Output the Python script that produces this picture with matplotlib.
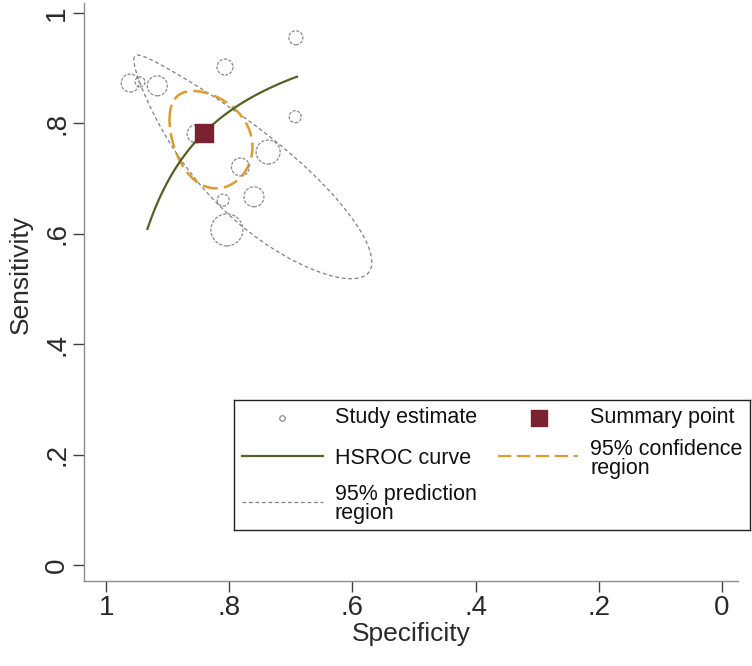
import numpy as np
import matplotlib
matplotlib.use('Agg')
import matplotlib.pyplot as plt

plt.rcParams['font.family'] = ['Liberation Sans', 'DejaVu Sans']

# study estimates
study_spec = [0.692, 0.807, 0.693, 0.737, 0.782, 0.760, 0.810, 0.804, 0.961, 0.945, 0.917, 0.854]
study_sens = [0.955, 0.902, 0.812, 0.748, 0.721, 0.667, 0.661, 0.607, 0.873, 0.875, 0.868, 0.781]
study_weight = [49, 64, 36, 144, 81, 100, 36, 256, 81, 25, 100, 81]

# summary point (logit scale)
summary_logit_spec = 1.666
summary_logit_sens = 1.284

# HSROC curve: logit(sens) = a + b * logit(1 - spec)
hsroc_a = 2.733
hsroc_b = 0.87
hsroc_spec_range = [0.933, 0.690]

# 95% regions on logit scale: half-width spec, half-width sens, correlation
conf_region = [0.50, 0.52, 0.28]
pred_region = [1.39, 1.21, 0.90]

x_ticks = [1, 0.8, 0.6, 0.4, 0.2, 0]
x_tick_labels = ['1', '.8', '.6', '.4', '.2', '0']
y_ticks = [0, 0.2, 0.4, 0.6, 0.8, 1]
y_tick_labels = ['0', '.2', '.4', '.6', '.8', '1']

study_color = '#8a8a8a'
summary_color = '#7b2230'
hsroc_color = '#526224'
conf_color = '#dc9c2e'
pred_color = '#808080'


def expit(v):
    return 1 / (1 + np.exp(-v))


def logit(p):
    return np.log(p / (1 - p))


def region_outline(hx, hy, r):
    t = np.linspace(0, 2 * np.pi, 300)
    lx = summary_logit_spec + hx * np.cos(t)
    ly = summary_logit_sens + hy * (r * np.cos(t) + np.sqrt(1 - r ** 2) * np.sin(t))
    return expit(lx), expit(ly)


fig = plt.figure(figsize=(7.52, 6.66), dpi=100)
ax = fig.add_axes([84 / 752, 85 / 666, 654 / 752, 578 / 666])

# prediction and confidence regions
px, py = region_outline(*pred_region)
ax.plot(px, py, color=pred_color, lw=0.9, dashes=(3, 2.2))
cx, cy = region_outline(*conf_region)
ax.plot(cx, cy, color=conf_color, lw=1.8, dashes=(6, 2.5))

# study estimates, sized by weight
ax.scatter(study_spec, study_sens, s=np.array(study_weight) * 2.07,
           facecolors='none', edgecolors=study_color, linewidths=0.9,
           linestyles=(0, (2.5, 1.2)), zorder=2)

# HSROC curve
spec_line = np.linspace(hsroc_spec_range[0], hsroc_spec_range[1], 100)
sens_line = expit(hsroc_a + hsroc_b * logit(1 - spec_line))
ax.plot(spec_line, sens_line, color=hsroc_color, lw=1.6, zorder=3)

# summary point
ax.scatter([expit(summary_logit_spec)], [expit(summary_logit_sens)], marker='s',
           s=170, color=summary_color, zorder=4)

ax.set_xlim(1.036, -0.026)
ax.set_ylim(-0.029, 1.018)
ax.set_xticks(x_ticks)
ax.set_xticklabels(x_tick_labels)
ax.set_yticks(y_ticks)
ax.set_yticklabels(y_tick_labels, rotation=90, va='center')
ax.tick_params(length=8, width=1, color='#404040', labelsize=20, labelcolor='#2a2a2a')
ax.tick_params(axis='x', pad=2)
ax.tick_params(axis='y', pad=2)
for side in ['top', 'right']:
    ax.spines[side].set_visible(False)
for side in ['left', 'bottom']:
    ax.spines[side].set_color('#8c8c8c')
    ax.spines[side].set_linewidth(1)
ax.set_xlabel('Specificity', fontsize=19, color='#2a2a2a', labelpad=1)
ax.set_ylabel('Sensitivity', fontsize=19, color='#2a2a2a')
ax.yaxis.set_label_coords(-0.078, 0.53)

# legend box drawn by hand so rows line up as in the original
lax = fig.add_axes([234 / 752, 136 / 666, 516 / 752, 130 / 666])
lax.set_xlim(0, 516)
lax.set_ylim(130, 0)
lax.set_xticks([])
lax.set_yticks([])
for sp in lax.spines.values():
    sp.set_color('#222222')
    sp.set_linewidth(1)

lax.plot([48], [18], 'o', ms=4, mfc='none', mec=study_color, mew=0.9)
lax.plot([305], [18], 's', ms=11, color=summary_color)
lax.plot([8, 89], [56, 56], color=hsroc_color, lw=1.6)
lax.plot([264, 344], [56, 56], color=conf_color, lw=1.6, dashes=(6, 2.5))
lax.plot([8, 89], [102, 102], color=pred_color, lw=0.9, dashes=(3, 2.2))

text_kw = dict(fontsize=15.5, color='#111111', va='center', ha='left',
               linespacing=0.85, clip_on=True)
lax.text(101, 18, 'Study estimate', **text_kw)
lax.text(356, 18, 'Summary point', **text_kw)
lax.text(101, 58, 'HSROC curve', **text_kw)
lax.text(356, 59, '95% confidence\nregion', **text_kw)
lax.text(101, 104, '95% prediction\nregion', **text_kw)

fig.savefig('out.png', dpi=100)
